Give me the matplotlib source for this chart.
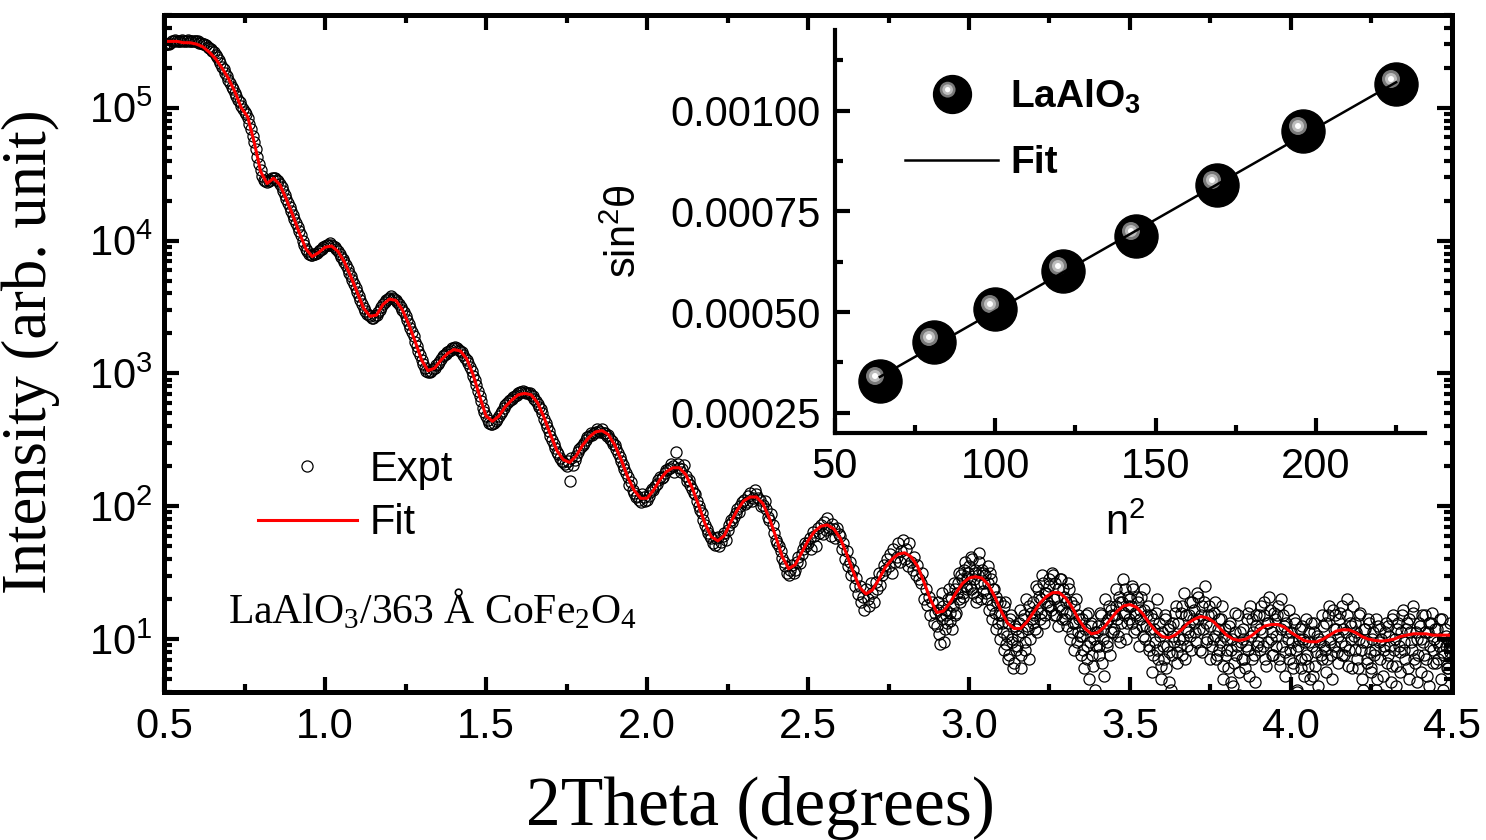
import numpy as np
import matplotlib
matplotlib.use('Agg')
import matplotlib.pyplot as plt
from matplotlib.path import Path
from matplotlib.legend_handler import HandlerTuple
from matplotlib.ticker import MultipleLocator, LogLocator, FormatStrFormatter, NullFormatter

plt.rcParams['font.family'] = ['Liberation Sans', 'DejaVu Sans']
plt.rcParams['mathtext.default'] = 'regular'
SERIF = ['Liberation Serif', 'DejaVu Serif']

# fitted reflectivity, log10(intensity), every 0.02 deg from 0.5 to 4.5
fit_2theta = np.linspace(0.5, 4.5, 201)
fit_log10 = [
    5.50, 5.50, 5.50, 5.49, 5.49, 5.48, 5.46, 5.42, 5.37, 5.30,
    5.22, 5.12, 5.00, 4.93, 4.74, 4.52, 4.43, 4.47, 4.42, 4.31,
    4.19, 4.06, 3.94, 3.88, 3.91, 3.95, 3.96, 3.92, 3.84, 3.73,
    3.61, 3.49, 3.43, 3.44, 3.52, 3.56, 3.55, 3.48, 3.37, 3.24,
    3.10, 3.02, 3.04, 3.10, 3.15, 3.18, 3.17, 3.11, 2.99, 2.83,
    2.68, 2.64, 2.68, 2.75, 2.80, 2.84, 2.85, 2.84, 2.78, 2.67,
    2.54, 2.42, 2.35, 2.33, 2.38, 2.46, 2.52, 2.56, 2.57, 2.54,
    2.46, 2.35, 2.22, 2.12, 2.06, 2.06, 2.12, 2.20, 2.26, 2.29,
    2.29, 2.24, 2.14, 2.01, 1.87, 1.77, 1.74, 1.78, 1.88, 1.97,
    2.04, 2.07, 2.07, 2.02, 1.91, 1.77, 1.62, 1.53, 1.56, 1.65,
    1.74, 1.81, 1.85, 1.86, 1.83, 1.76, 1.64, 1.51, 1.39, 1.34,
    1.37, 1.45, 1.54, 1.60, 1.64, 1.65, 1.62, 1.55, 1.43, 1.30,
    1.20, 1.21, 1.27, 1.35, 1.42, 1.46, 1.47, 1.46, 1.41, 1.32,
    1.21, 1.12, 1.08, 1.08, 1.13, 1.20, 1.27, 1.32, 1.35, 1.35,
    1.31, 1.24, 1.15, 1.08, 1.04, 1.05, 1.09, 1.15, 1.21, 1.25,
    1.26, 1.24, 1.19, 1.12, 1.06, 1.02, 1.01, 1.03, 1.07, 1.12,
    1.15, 1.17, 1.16, 1.13, 1.08, 1.03, 1.00, 0.99, 1.00, 1.03,
    1.07, 1.10, 1.11, 1.11, 1.09, 1.05, 1.02, 0.99, 0.98, 0.98,
    1.00, 1.03, 1.06, 1.07, 1.07, 1.05, 1.02, 1.00, 0.99, 0.985,
    0.99, 1.00, 1.02, 1.03, 1.04, 1.04, 1.04, 1.03, 1.03, 1.03,
    1.03,
]

# measured points, 100*log10(intensity); 0.01 deg steps up to 2.49
expt_lo_2theta = np.linspace(0.5, 2.49, 200)
expt_lo = [
    547, 548, 549, 550, 550, 550, 550, 550, 550, 550,
    550, 549, 548, 547, 545, 543, 540, 536, 531, 526,
    521, 516, 511, 506, 501, 497, 492, 484, 474, 463,
    453, 446, 444, 446, 447, 446, 443, 437, 431, 425,
    419, 413, 407, 400, 394, 390, 389, 390, 392, 394,
    396, 397, 397, 395, 392, 388, 384, 379, 373, 367,
    361, 355, 349, 345, 343, 342, 344, 348, 352, 355,
    357, 357, 355, 352, 348, 343, 337, 331, 324, 317,
    310, 304, 301, 302, 304, 307, 311, 314, 316, 318,
    319, 319, 317, 314, 310, 305, 298, 291, 283, 274,
    268, 263, 262, 264, 268, 272, 276, 279, 281, 283,
    285, 286, 286, 285, 284, 281, 277, 273, 266, 260,
    253, 247, 241, 236, 233, 230, 219, 231, 238, 243,
    246, 250, 253, 254, 256, 257, 258, 255, 254, 249,
    246, 240, 234, 228, 222, 218, 210, 208, 203, 207,
    205, 211, 212, 217, 222, 222, 227, 229, 230, 241,
    229, 228, 223, 220, 213, 209, 200, 195, 186, 180,
    176, 171, 177, 173, 180, 182, 190, 192, 198, 200,
    205, 203, 210, 206, 209, 205, 201, 198, 190, 186,
    175, 170, 161, 155, 148, 156, 152, 162, 164, 172,
]

# in-between measured points, 0.505 .. 2.495 deg
expt_mid_2theta = np.linspace(0.505, 2.495, 200)
expt_mid = [
    548, 548, 550, 551, 550, 551, 550, 551, 550, 550,
    550, 549, 548, 546, 544, 542, 538, 534, 529, 524,
    519, 514, 509, 504, 499, 495, 488, 479, 469, 458,
    449, 445, 445, 447, 447, 445, 440, 434, 428, 422,
    416, 410, 404, 397, 392, 389, 390, 391, 393, 395,
    397, 398, 396, 394, 390, 386, 382, 376, 370, 364,
    358, 352, 347, 344, 342, 343, 346, 350, 354, 356,
    358, 356, 354, 350, 346, 340, 334, 328, 321, 314,
    307, 302, 301, 303, 306, 309, 313, 315, 317, 319,
    320, 318, 316, 312, 308, 302, 295, 287, 279, 271,
    265, 262, 263, 266, 270, 274, 278, 280, 282, 284,
    286, 287, 285, 285, 283, 279, 275, 270, 263, 257,
    250, 244, 239, 234, 232, 234, 236, 235, 241, 245,
    248, 252, 255, 255, 258, 256, 255, 253, 251, 247,
    243, 237, 231, 225, 216, 212, 207, 205, 209, 204,
    208, 213, 215, 220, 221, 225, 228, 232, 226, 232,
    226, 231, 219, 216, 210, 204, 197, 190, 183, 178,
    172, 176, 170, 178, 175, 186, 188, 195, 196, 203,
    202, 208, 204, 212, 206, 200, 204, 192, 194, 180,
    172, 166, 158, 150, 152, 150, 158, 157, 168, 170,
]

# measured points, 100*log10(intensity); 0.005 deg steps from 2.5 (noisy tail)
expt_hi_2theta = np.linspace(2.5, 4.5, 401)
expt_hi = [
    172, 176, 168, 181, 178, 170, 184, 180, 186, 179,
    188, 182, 191, 184, 178, 187, 183, 176, 184, 179,
    178, 168, 172, 160, 166, 155, 158, 148, 152, 140,
    146, 134, 140, 128, 132, 122, 138, 130, 125, 142,
    135, 128, 143, 138, 150, 141, 148, 156, 152, 160,
    155, 164, 150, 168, 158, 162, 172, 158, 166, 175,
    160, 168, 155, 172, 158, 152, 162, 148, 156, 145,
    142, 150, 130, 138, 126, 132, 118, 128, 112, 120,
    110, 122, 96, 115, 125, 108, 118, 130, 114, 132,
    125, 138, 120, 142, 130, 148, 135, 152, 140, 146,
    155, 138, 160, 145, 150, 132, 158, 142, 152, 136,
    148, 130, 142, 150, 126, 138, 120, 132, 112, 128,
    118, 105, 125, 96, 112, 88, 118, 100, 82, 108,
    95, 112, 78, 105, 118, 92, 110, 125, 100, 115,
    128, 108, 122, 138, 115, 130, 142, 118, 135, 125,
    140, 122, 148, 130, 118, 138, 125, 145, 115, 132,
    128, 110, 138, 120, 105, 125, 112, 98, 118, 102,
    115, 92, 108, 85, 120, 98, 112, 80, 105, 95,
    110, 88, 118, 100, 72, 112, 95, 125, 105, 118,
    108, 125, 115, 132, 98, 128, 118, 138, 112, 125,
    130, 112, 138, 120, 108, 128, 115, 132, 102, 122,
    110, 125, 95, 118, 88, 108, 120, 92, 112, 80,
    105, 85, 118, 95, 68, 110, 88, 102, 120, 90,
    112, 95, 125, 100, 85, 118, 105, 128, 92, 115,
    122, 98, 132, 108, 118, 90, 128, 112, 100, 125,
    110, 95, 120, 102, 88, 115, 98, 125, 80, 108,
    100, 78, 112, 92, 65, 105, 88, 118, 75, 98,
    108, 85, 95, 120, 72, 102, 115, 88, 110, 95,
    118, 92, 105, 128, 85, 112, 98, 122, 105, 88,
    115, 95, 125, 80, 108, 118, 90, 112, 100, 85,
    105, 78, 115, 92, 62, 100, 85, 110, 72, 98,
    88, 105, 70, 95, 112, 80, 102, 65, 98, 85,
    110, 92, 75, 118, 100, 88, 122, 95, 108, 82,
    115, 98, 125, 88, 105, 118, 92, 110, 78, 102,
    112, 85, 100, 120, 70, 98, 108, 82, 115, 90,
    78, 105, 92, 62, 110, 85, 100, 72, 95, 112,
    88, 102, 68, 115, 92, 80, 108, 95, 75, 118,
    98, 85, 112, 70, 105, 92, 120, 82, 100, 88,
    110, 75, 98, 118, 85, 105, 65, 112, 92, 100,
    82, 108, 95, 70, 115, 88, 102, 78, 98, 90,
    95,
]

# second pass of tail points, 100*log10(intensity), 2.9025 .. 4.4975 deg
expt_tail_2theta = np.linspace(2.9025, 4.4975, 320)
expt_tail = [
    128, 104, 118, 135, 98, 122, 112, 138, 120, 108,
    142, 118, 135, 150, 128, 145, 132, 158, 138, 150,
    140, 162, 135, 152, 128, 148, 165, 130, 150, 142,
    135, 155, 122, 145, 115, 138, 108, 128, 118, 100,
    112, 92, 128, 102, 85, 115, 98, 78, 110, 92,
    102, 122, 88, 115, 98, 130, 108, 85, 120, 112,
    118, 140, 105, 132, 120, 148, 112, 135, 128, 145,
    125, 150, 118, 142, 132, 110, 145, 122, 138, 115,
    120, 142, 100, 128, 112, 92, 130, 105, 115, 88,
    102, 78, 118, 95, 70, 110, 88, 100, 62, 105,
    95, 120, 82, 108, 130, 98, 115, 88, 122, 105,
    118, 138, 102, 128, 112, 145, 120, 100, 132, 115,
    125, 140, 105, 118, 132, 95, 122, 110, 138, 100,
    118, 92, 108, 75, 115, 98, 130, 85, 102, 70,
    95, 115, 78, 108, 90, 62, 112, 98, 125, 82,
    100, 120, 88, 135, 108, 95, 118, 102, 128, 112,
    105, 135, 115, 92, 125, 108, 140, 98, 118, 85,
    118, 100, 128, 85, 108, 92, 115, 70, 102, 88,
    92, 110, 68, 100, 82, 120, 95, 58, 105, 85,
    100, 78, 115, 92, 125, 85, 105, 68, 118, 98,
    108, 125, 95, 118, 80, 112, 132, 100, 88, 120,
    102, 118, 85, 130, 95, 110, 72, 105, 122, 92,
    98, 82, 112, 60, 95, 108, 78, 100, 85, 115,
    80, 98, 112, 72, 105, 90, 58, 100, 88, 118,
    95, 112, 85, 125, 98, 70, 108, 118, 90, 102,
    120, 88, 108, 95, 130, 80, 112, 100, 125, 92,
    105, 78, 118, 92, 62, 108, 98, 85, 112, 75,
    100, 88, 115, 70, 98, 108, 58, 92, 105, 82,
    110, 95, 80, 118, 100, 65, 112, 90, 105, 122,
    92, 108, 78, 115, 98, 125, 85, 105, 68, 112,
    100, 118, 88, 105, 72, 112, 95, 120, 82, 108,
    98, 85, 115, 90, 62, 108, 95, 78, 112, 100,
]

# inset: Kiessig fringe positions
n_sq = [64, 81, 100, 121, 144, 169, 196, 225]
sin_sq = [0.000330, 0.000425, 0.000508, 0.000603, 0.000688, 0.000815, 0.000950, 0.001065]


def glint(diam_px, off_px=5.5):
    # circle marker shifted up-left, used for the shiny highlight on the spheres
    circ = Path.circle(center=(-off_px, off_px), radius=diam_px / 2.0)
    ms = 2 * np.max(np.abs(circ.vertices)) * 0.72
    return circ, ms


fig = plt.figure(figsize=(14.86, 8.4), dpi=100)
ax = fig.add_axes([0.1104, 0.1762, 0.8667, 0.8060])

expt_style = dict(ls='none', marker='o', ms=8, mfc='none', mec='black', mew=0.9)
l_expt, = ax.plot(expt_lo_2theta, 10 ** (np.array(expt_lo) / 100.0), **expt_style)
ax.plot(expt_mid_2theta, 10 ** (np.array(expt_mid) / 100.0), **expt_style)
ax.plot(expt_hi_2theta, 10 ** (np.array(expt_hi) / 100.0), **expt_style)
ax.plot(expt_tail_2theta, 10 ** (np.array(expt_tail) / 100.0), **expt_style)
l_fit, = ax.plot(fit_2theta, 10 ** np.array(fit_log10), color='#ff0000', lw=2.2)

ax.set_yscale('log')
ax.set_xlim(0.5, 4.5)
ax.set_ylim(4, 5e5)
ax.xaxis.set_major_locator(MultipleLocator(0.5))
ax.xaxis.set_minor_locator(MultipleLocator(0.25))
ax.xaxis.set_major_formatter(FormatStrFormatter('%.1f'))
ax.yaxis.set_major_locator(LogLocator(base=10, numticks=10))
ax.yaxis.set_minor_locator(LogLocator(base=10, subs=np.arange(2, 10), numticks=20))
ax.yaxis.set_minor_formatter(NullFormatter())
ax.tick_params(which='both', direction='in', top=True, right=True, width=3, labelsize=30)
ax.tick_params(which='major', length=11, pad=8)
ax.tick_params(axis='x', which='major', pad=11)
ax.tick_params(which='minor', length=6)
for s in ax.spines.values():
    s.set_linewidth(3.6)

ax.set_xlabel('2Theta (degrees)', fontsize=50, family=SERIF)
ax.xaxis.set_label_coords(0.4627, -0.124)
ax.set_ylabel('Intensity (arb. unit)', fontsize=45, family=SERIF)
ax.yaxis.set_label_coords(-0.081, 0.502)

ax.legend([l_expt, l_fit], ['Expt', 'Fit'], loc='upper left', frameon=False,
          bbox_to_anchor=(258 / 1486, 1 - 450 / 840), bbox_transform=fig.transFigure,
          borderpad=0, borderaxespad=0, handlelength=2.37, handletextpad=0.3,
          labelspacing=0.32, numpoints=1, prop={'size': 30})

ax.text(228 / 1486, 1 - 623 / 840, 'LaAlO$_3$/363 Å CoFe$_2$O$_4$', transform=fig.transFigure,
        family=SERIF, fontsize=30, va='baseline', ha='left')

# inset
ins = fig.add_axes([0.5619, 0.4845, 0.3970, 0.4798])
ins.patch.set_facecolor('none')
ins.spines['top'].set_visible(False)
ins.spines['right'].set_visible(False)
for s in ('left', 'bottom'):
    ins.spines[s].set_linewidth(3.0)

sphere, = ins.plot(n_sq, sin_sq, 'o', ls='none', ms=31, color='black', zorder=3)
hl = []
for diam, col in ((18, '#7a7a7a'), (12, '#bdbdbd'), (6, 'white')):
    path, ms = glint(diam)
    h, = ins.plot(n_sq, sin_sq, ls='none', marker=path, ms=ms, mfc=col, mew=0, zorder=4)
    hl.append(h)

coef = np.polyfit(n_sq, sin_sq, 1)
xs = np.array([n_sq[0], n_sq[-1]])
fit_line, = ins.plot(xs, np.polyval(coef, xs), color='black', lw=1.8, zorder=5)

ins.set_xlim(50, 234)
ins.set_ylim(0.0002, 0.0012)
ins.xaxis.set_major_locator(MultipleLocator(50))
ins.xaxis.set_minor_locator(MultipleLocator(25))
ins.yaxis.set_major_locator(MultipleLocator(0.00025))
ins.yaxis.set_minor_locator(MultipleLocator(0.000125))
ins.yaxis.set_major_formatter(FormatStrFormatter('%.5f'))
ins.tick_params(which='both', direction='in', width=3, labelsize=30)
ins.tick_params(which='major', length=11, pad=10)
ins.tick_params(which='minor', length=6)
ins.set_xlabel('n$^2$', fontsize=30)
ins.xaxis.set_label_coords(0.4915, -0.175)
ins.set_ylabel('sin$^2$θ', fontsize=30)
ins.yaxis.set_label_coords(-0.322, 0.5)

ins.legend([tuple([sphere] + hl), fit_line], ['LaAlO$_3$', 'Fit'],
           handler_map={tuple: HandlerTuple(ndivide=1, pad=0)},
           loc='upper left', frameon=False,
           bbox_to_anchor=(905 / 1486, 1 - 78 / 840), bbox_transform=fig.transFigure,
           borderpad=0, borderaxespad=0, handlelength=2.4, handletextpad=0.3,
           labelspacing=0.75, numpoints=1, markerscale=0.88,
           prop={'size': 28, 'weight': 'bold'})

fig.savefig('out.png', dpi=100)
